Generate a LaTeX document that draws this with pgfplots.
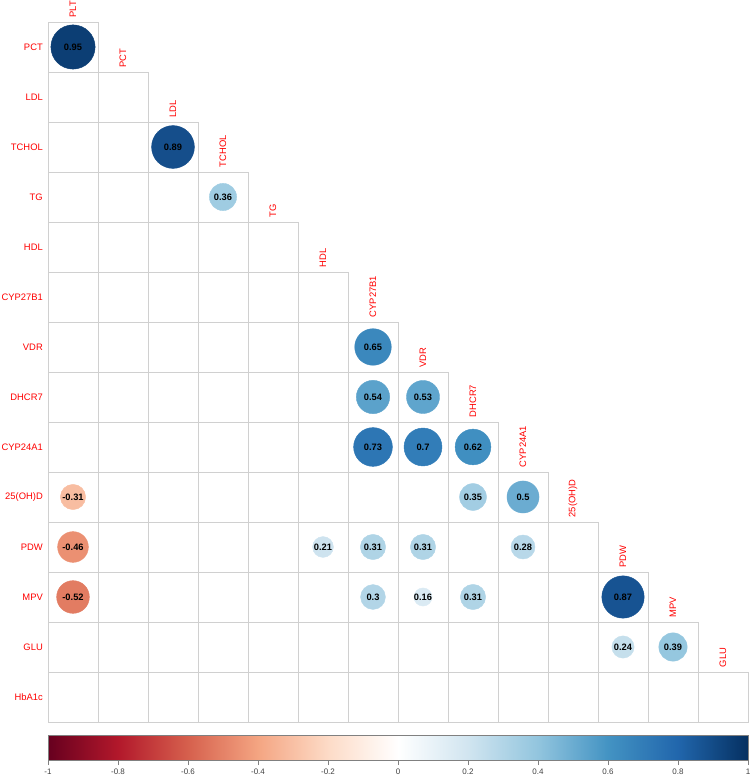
\documentclass[border=0pt]{standalone}
\usepackage{pgfplots}
\pgfplotsset{compat=1.18}
\usepackage{pgfplotstable}
\usepackage{fontspec}
\setmainfont{Liberation Sans}
\definecolor{gridc}{RGB}{208,208,208}
\definecolor{labred}{RGB}{255,0,0}
\pgfplotsset{
  colormap={rdbu}{rgb255=(103,0,31) rgb255=(178,24,43) rgb255=(214,96,77) rgb255=(244,165,130) rgb255=(253,219,199) rgb255=(255,255,255) rgb255=(209,229,240) rgb255=(146,197,222) rgb255=(67,147,195) rgb255=(33,102,172) rgb255=(5,48,97)},
}

\pgfplotstableread{
x y r
1 14 0.95
3 12 0.89
4 11 0.36
7 8 0.65
7 7 0.54
8 7 0.53
7 6 0.73
8 6 0.70
9 6 0.62
1 5 -0.31
9 5 0.35
10 5 0.50
1 4 -0.46
6 4 0.21
7 4 0.31
8 4 0.31
10 4 0.28
1 3 -0.52
7 3 0.30
8 3 0.16
9 3 0.31
12 3 0.87
12 2 0.24
13 2 0.39
}\corrdata

\begin{document}
\begin{tikzpicture}
\useasboundingbox (-48pt,-56pt) rectangle (702pt,722pt);
% grid of the lower triangle
\foreach \j in {1,...,14}{
  \foreach \i in {1,...,\j}{
    \draw[gridc, line width=0.6pt] ({(\i-1)*50pt},{(14-\j)*50pt}) rectangle ({\i*50pt},{(15-\j)*50pt});
  }
}
\begin{axis}[
  at={(0,0)}, anchor=south west,
  scale only axis, width=700pt, height=700pt,
  xmin=0.5, xmax=14.5, ymin=0.5, ymax=14.5,
  axis line style={draw=none},
  xtick=\empty, ytick=\empty,
  clip=false,
  colormap name=rdbu,
  point meta min=-1, point meta max=1,
]
\addplot[scatter, only marks, mark=*, point meta=explicit,
  scatter/use mapped color={draw=mapped color, fill=mapped color},
  visualization depends on={22.7*sqrt(abs(\thisrow{r})) \as \msize},
  scatter/@pre marker code/.append style={/tikz/mark size=\msize pt}]
  table[x=x, y=y, meta=r] {\corrdata};
\addplot[only marks, mark=none, point meta=explicit,
  nodes near coords={\pgfmathprintnumber[assume math mode=true]{\pgfplotspointmeta}},
  nodes near coords align=center,
  every node near coord/.append style={font=\bfseries\fontsize{9.3}{10}\selectfont, text=black, inner sep=0pt, anchor=center}]
  table[x=x, y=y, meta=r] {\corrdata};
\end{axis}
% colour key
\begin{axis}[
  at={(0,-38pt)}, anchor=south west,
  scale only axis, width=700pt, height=25pt,
  xmin=-1, xmax=1, ymin=0, ymax=1,
  ytick=\empty,
  xtick={-1,-0.8,-0.6,-0.4,-0.2,0,0.2,0.4,0.6,0.8,1},
  xticklabels={-1,-0.8,-0.6,-0.4,-0.2,0,0.2,0.4,0.6,0.8,1},
  xtick pos=bottom, tick align=outside, major tick length=5pt,
  xtick style={gray, line width=0.6pt},
  axis line style={gray, line width=0.8pt},
  xticklabel style={font=\fontsize{8}{9}\selectfont, text=black!75, inner sep=2pt, yshift=-2pt},
  axis on top,
  colormap name=rdbu,
  point meta min=-1, point meta max=1,
]
\addplot[surf, shader=interp, mesh/cols=2, point meta=x] coordinates {(-1,0) (1,0) (-1,1) (1,1)};
\end{axis}
% row labels
\foreach \lab [count=\j] in {PCT,LDL,TCHOL,TG,HDL,CYP27B1,VDR,DHCR7,CYP24A1,25(OH)D,PDW,MPV,GLU,HbA1c}{
  \node[anchor=east, inner sep=0pt, text=labred, font=\fontsize{9.4}{11}\selectfont] at (-5pt,{(14.5-\j)*50pt}) {\lab};
}
% column (diagonal) labels
\foreach \lab [count=\i] in {PLT,PCT,LDL,TCHOL,TG,HDL,CYP27B1,VDR,DHCR7,CYP24A1,25(OH)D,PDW,MPV,GLU}{
  \node[anchor=west, rotate=90, inner sep=0pt, text=labred, font=\fontsize{9.4}{11}\selectfont] at ({(\i-0.5)*50pt},{(15-\i)*50pt+4.5pt}) {\lab};
}
\end{tikzpicture}
\end{document}
